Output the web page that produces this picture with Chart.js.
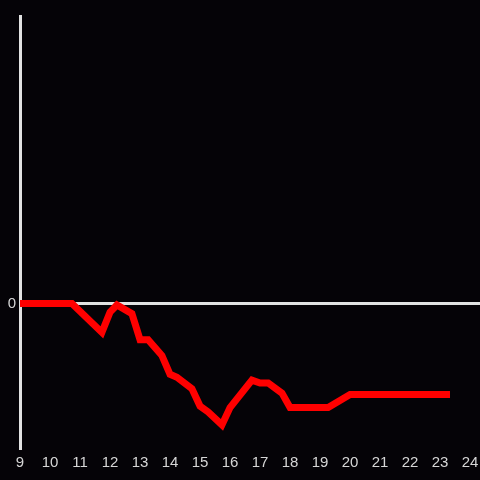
<!DOCTYPE html>
<html lang="en">
<head>
    <meta charset="UTF-8">
    <title>Line chart</title>
    <script src="https://cdn.jsdelivr.net/npm/chart.js"></script>
    <style>
        html, body { margin: 0; padding: 0; background: #050307; }
        #wrap { width: 480px; height: 480px; }
    </style>
</head>
<body>
    <div id="wrap"><canvas id="chart"></canvas></div>
    <script>
        // hour of day vs value
        const hours = [9, 10.73, 11.73, 12.0, 12.23, 12.73, 13.0, 13.27, 13.73, 14.0, 14.23, 14.73, 15.0, 15.27, 15.73, 16.0, 16.73, 17.0, 17.27, 17.73, 18.0, 19.27, 20.0, 23.33];
        const values = [0, 0, -0.2, -0.06, -0.01, -0.07, -0.25, -0.25, -0.36, -0.49, -0.51, -0.59, -0.71, -0.75, -0.84, -0.72, -0.53, -0.55, -0.55, -0.62, -0.72, -0.72, -0.63, -0.63];
        const xMin = 9, xMax = 24.33;
        const yMin = -1, yMax = 1.99;

        const axisColor = '#e2e2e2';
        const labelColor = '#d6d6d6';

        new Chart(document.getElementById('chart'), {
            type: 'line',
            data: {
                datasets: [{
                    data: hours.map((h, i) => ({ x: h, y: values[i] })),
                    borderColor: '#ff0000',
                    borderWidth: 7,
                    pointRadius: 0,
                    tension: 0,
                    fill: false
                }]
            },
            options: {
                responsive: true,
                maintainAspectRatio: false,
                animation: false,
                layout: { padding: { top: 16, right: 0, left: 0, bottom: 0 } },
                plugins: { legend: { display: false }, tooltip: { enabled: false } },
                scales: {
                    x: {
                        type: 'linear',
                        min: xMin,
                        max: xMax,
                        border: { display: false },
                        grid: { display: false, drawTicks: false },
                        ticks: {
                            stepSize: 1,
                            includeBounds: false,
                            color: labelColor,
                            padding: 6,
                            maxRotation: 0,
                            autoSkip: false,
                            font: { family: 'Liberation Sans', size: 15 }
                        },
                        afterFit: s => { s.height = 32; s.paddingRight = 0; s.paddingLeft = 0; }
                    },
                    y: {
                        min: yMin,
                        max: yMax,
                        border: { display: true, color: axisColor, width: 3 },
                        grid: { color: axisColor, lineWidth: 3, drawTicks: false },
                        afterBuildTicks: s => { s.ticks = [{ value: 0 }]; },
                        ticks: {
                            color: labelColor,
                            padding: 4,
                            font: { family: 'Liberation Sans', size: 15 }
                        },
                        afterFit: s => { s.width = 20; }
                    }
                }
            }
        });
    </script>
</body>
</html>
